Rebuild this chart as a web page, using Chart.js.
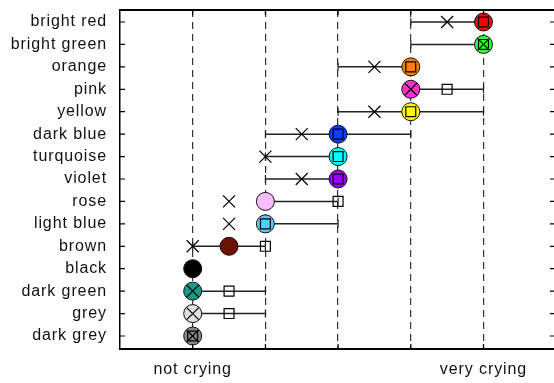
<!DOCTYPE html>
<html>
<head>
<meta charset="utf-8">
<script src="https://cdn.jsdelivr.net/npm/chart.js@4/dist/chart.umd.min.js"></script>
<style>
  html, body { margin: 0; padding: 0; background: #fff; }
  canvas { display: block; }
</style>
</head>
<body>
<canvas id="c" width="554" height="383"></canvas>
<script>
// ---- data ----
const categories = ["bright red","bright green","orange","pink","yellow","dark blue","turquoise","violet","rose","light blue","brown","black","dark green","grey","dark grey"];
const circleColors = ["#ff0000","#33ff33","#ff8000","#ff33cc","#ffff00","#0a3cff","#00ffff","#9900ff","#ffbbff","#55ccff","#6b1100","#000000","#1a9988","#e0e0e0","#888888"];
const circleValues = [5,5,4,4,4,3,3,3,2,2,1.5,1,1,1,1];
const crossValues  = [4.5,5,3.5,4,3.5,2.5,2,2.5,1.5,1.5,1,1,1,1,1];
const squareValues = [5,5,4,4.5,4,3,3,3,3,2,2,1,1.5,1.5,1];
const rangeMin     = [4,4,3,4,3,2,2,2,2,2,1,1,1,1,1];
const rangeMax     = [5,5,4,5,5,4,3,3,3,3,2,1,2,2,1];
const xTickValues  = [1,2,3,4,5];
const xTickLabels  = {1: "not crying", 5: "very crying"};

const rowIndex = categories.map((_, i) => i + 1);

const rangeData = [];
categories.forEach((c, i) => {
  if (rangeMin[i] === rangeMax[i]) return;
  rangeData.push({x: rangeMin[i], y: rowIndex[i]});
  rangeData.push({x: rangeMax[i], y: rowIndex[i]});
  rangeData.push({x: null, y: null});
});

const FONT = { family: "'Liberation Sans', Arial, sans-serif", size: 16 };

const framePlugin = {
  id: 'frame',
  beforeDraw(chart) {
    chart.ctx.letterSpacing = '0.9px';
  },
  afterDatasetsDraw(chart) {
    const {ctx, chartArea: a, scales} = chart;
    ctx.save();
    ctx.strokeStyle = '#000';
    ctx.lineWidth = 1.2;
    ctx.beginPath();
    scales.y.ticks.forEach(t => {
      const y = scales.y.getPixelForValue(t.value);
      ctx.moveTo(a.left, y); ctx.lineTo(a.left + 5, y);
      ctx.moveTo(a.right - 4, y); ctx.lineTo(a.right, y);
    });
    scales.x.ticks.forEach(t => {
      const x = scales.x.getPixelForValue(t.value);
      ctx.moveTo(x, a.bottom); ctx.lineTo(x, a.bottom - 5);
      ctx.moveTo(x, a.top); ctx.lineTo(x, a.top + 5);
    });
    ctx.stroke();
    ctx.lineWidth = 2;
    ctx.beginPath();
    ctx.moveTo(a.left, a.top); ctx.lineTo(a.right, a.top);
    ctx.stroke();
    ctx.restore();
  }
};

new Chart(document.getElementById('c'), {
  type: 'scatter',
  data: {
    datasets: [
      {
        label: 'range',
        data: rangeData,
        showLine: true,
        spanGaps: false,
        borderColor: '#222',
        borderWidth: 1.5,
        pointStyle: 'line',
        rotation: 90,
        pointRadius: 4,
        pointBorderWidth: 1.2,
        pointBorderColor: '#222',
        order: 4
      },
      {
        label: 'circle',
        data: categories.map((c, i) => ({x: circleValues[i], y: rowIndex[i]})),
        pointStyle: 'circle',
        pointRadius: 9,
        pointBackgroundColor: circleColors,
        pointBorderColor: '#111',
        pointBorderWidth: 1,
        order: 3
      },
      {
        label: 'square',
        data: categories.map((c, i) => ({x: squareValues[i], y: rowIndex[i]})),
        pointStyle: 'rect',
        pointRadius: 7,
        pointBackgroundColor: 'rgba(0,0,0,0)',
        pointBorderColor: '#000',
        pointBorderWidth: 1.2,
        order: 2
      },
      {
        label: 'cross',
        data: categories.map((c, i) => ({x: crossValues[i], y: rowIndex[i]})),
        pointStyle: 'crossRot',
        pointRadius: 8.5,
        pointBorderColor: '#000',
        pointBorderWidth: 1.2,
        order: 1
      }
    ]
  },
  options: {
    responsive: false,
    animation: false,
    events: [],
    layout: { autoPadding: false, padding: { top: 10, left: 0, right: 0, bottom: 0 } },
    plugins: { legend: { display: false }, tooltip: { enabled: false } },
    scales: {
      x: {
        type: 'linear',
        min: 0,
        max: 5.97,
        afterBuildTicks: s => { s.ticks = xTickValues.map(v => ({value: v})); },
        afterFit: s => { s.height = 34; s.paddingLeft = 0; s.paddingRight = 0; },
        ticks: {
          callback: v => xTickLabels[v] || '',
          font: FONT,
          color: '#111',
          padding: 11,
          maxRotation: 0,
          autoSkip: false
        },
        grid: { color: '#333', lineWidth: 1.2, drawTicks: false },
        border: { color: '#000', width: 2, dash: [7, 5] }
      },
      y: {
        type: 'linear',
        reverse: true,
        min: 0.465,
        max: 15.58,
        afterBuildTicks: s => { s.ticks = rowIndex.map(v => ({value: v})); },
        afterFit: s => { s.width = 120; s.paddingTop = 0; s.paddingBottom = 0; },
        ticks: {
          callback: v => categories[v - 1] || '',
          font: FONT,
          color: '#111',
          padding: 13,
          autoSkip: false
        },
        grid: { display: false, drawTicks: false },
        border: { color: '#000', width: 1.5 }
      }
    }
  },
  plugins: [framePlugin]
});
</script>
</body>
</html>
